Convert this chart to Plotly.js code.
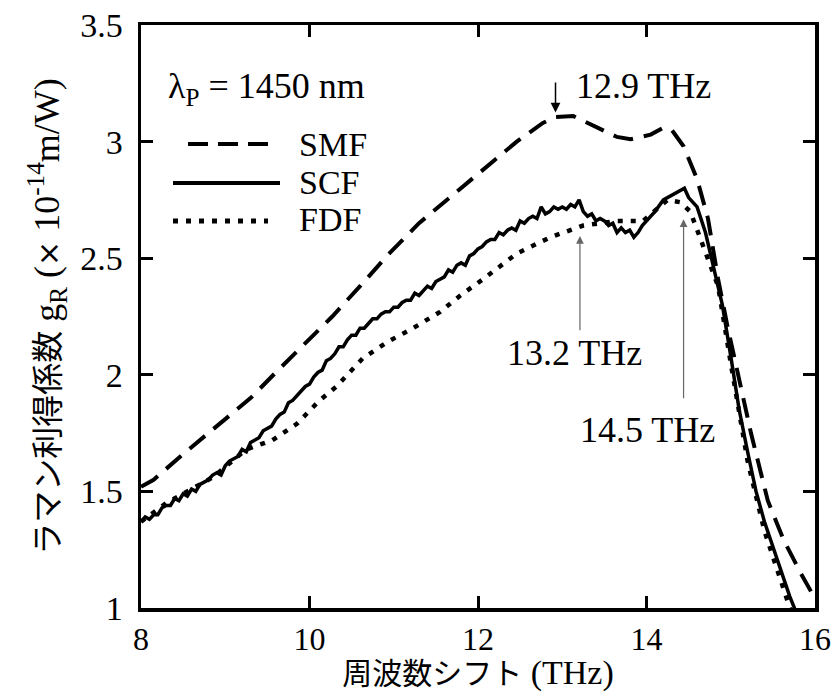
<!DOCTYPE html>
<html>
<head>
<meta charset="utf-8">
<script src="https://cdn.plot.ly/plotly-3.0.1.min.js"></script>
<style>html,body{margin:0;padding:0;background:#fff;}#chart{width:834px;height:693px;}</style>
</head>
<body>
<div id="chart"></div>
<script>
// ---- data ----
var smfX = [8.0, 8.15, 8.5, 8.93, 9.3, 9.6, 10.0, 10.27, 10.6, 10.92, 11.3, 11.7, 12.06, 12.46, 12.77, 12.92, 13.13, 13.49, 13.65, 13.81, 14.05, 14.2, 14.3, 14.44, 14.6, 14.73, 14.85, 14.96, 15.1, 15.24, 15.44, 15.63, 15.83, 16.0];
var smfY = [1.52, 1.55, 1.66, 1.79, 1.90, 2.01, 2.15, 2.25, 2.38, 2.51, 2.65, 2.77, 2.88, 3.00, 3.08, 3.105, 3.11, 3.05, 3.02, 3.01, 3.03, 3.06, 3.05, 2.98, 2.84, 2.67, 2.41, 2.21, 1.98, 1.75, 1.46, 1.29, 1.15, 1.04];

var scfX = [8.0, 8.05, 8.1, 8.15, 8.2, 8.25, 8.3, 8.35, 8.4, 8.45, 8.5, 8.55, 8.6, 8.65, 8.7, 8.75, 8.8, 8.85, 8.9, 8.95, 9.0, 9.05, 9.1, 9.15, 9.2, 9.25, 9.3, 9.35, 9.4, 9.45, 9.5, 9.55, 9.6, 9.65, 9.7, 9.75, 9.8, 9.85, 9.9, 9.95, 10.0, 10.05, 10.1, 10.15, 10.2, 10.25, 10.3, 10.35, 10.4, 10.45, 10.5, 10.55, 10.6, 10.65, 10.7, 10.75, 10.8, 10.85, 10.9, 10.95, 11.0, 11.05, 11.1, 11.15, 11.2, 11.25, 11.3, 11.35, 11.4, 11.45, 11.5, 11.55, 11.6, 11.65, 11.7, 11.75, 11.8, 11.85, 11.9, 11.95, 12.0, 12.05, 12.1, 12.15, 12.2, 12.25, 12.3, 12.35, 12.4, 12.45, 12.5, 12.55, 12.6, 12.65, 12.7, 12.75, 12.8, 12.85, 12.9, 12.95, 13.0, 13.05, 13.1, 13.15, 13.2, 13.25, 13.3, 13.35, 13.4, 13.45, 13.5, 13.55, 13.6, 13.65, 13.7, 13.75, 13.8, 13.85, 13.9, 13.95, 14.0, 14.1, 14.2, 14.3, 14.4, 14.45, 14.5, 14.6, 14.7, 14.8, 14.9, 15.0, 15.1, 15.2, 15.3, 15.4, 15.5, 15.6, 15.7, 15.8];
var scfY = [1.37, 1.39, 1.38, 1.40, 1.40, 1.43, 1.44, 1.44, 1.47, 1.46, 1.49, 1.48, 1.51, 1.50, 1.53, 1.54, 1.55, 1.57, 1.58, 1.57, 1.61, 1.63, 1.64, 1.65, 1.68, 1.67, 1.71, 1.72, 1.73, 1.76, 1.77, 1.78, 1.81, 1.83, 1.84, 1.88, 1.89, 1.91, 1.93, 1.95, 1.96, 1.99, 2.01, 2.02, 2.06, 2.07, 2.09, 2.12, 2.12, 2.15, 2.17, 2.17, 2.20, 2.20, 2.22, 2.24, 2.24, 2.26, 2.27, 2.27, 2.29, 2.29, 2.31, 2.32, 2.32, 2.35, 2.34, 2.36, 2.38, 2.37, 2.40, 2.41, 2.42, 2.45, 2.44, 2.47, 2.48, 2.47, 2.51, 2.52, 2.54, 2.55, 2.57, 2.58, 2.58, 2.61, 2.60, 2.62, 2.63, 2.62, 2.66, 2.65, 2.67, 2.68, 2.67, 2.72, 2.69, 2.70, 2.72, 2.71, 2.72, 2.71, 2.73, 2.72, 2.75, 2.70, 2.68, 2.69, 2.66, 2.67, 2.66, 2.64, 2.65, 2.61, 2.63, 2.61, 2.62, 2.59, 2.61, 2.64, 2.66, 2.70, 2.75, 2.77, 2.79, 2.80, 2.76, 2.72, 2.61, 2.45, 2.30, 2.08, 1.85, 1.67, 1.50, 1.37, 1.26, 1.15, 1.05, 0.96];

var fdfX = [8.0, 8.3, 8.6, 8.85, 9.25, 9.56, 9.85, 10.12, 10.32, 10.63, 10.92, 11.23, 11.55, 11.79, 12.06, 12.46, 12.86, 13.25, 13.65, 13.96, 14.25, 14.4, 14.52, 14.68, 14.85, 15.0, 15.2, 15.4, 15.6, 15.72];
var fdfY = [1.37, 1.45, 1.51, 1.56, 1.68, 1.72, 1.79, 1.89, 1.95, 2.07, 2.14, 2.20, 2.27, 2.34, 2.41, 2.52, 2.59, 2.64, 2.66, 2.66, 2.75, 2.74, 2.70, 2.55, 2.38, 2.05, 1.63, 1.33, 1.11, 0.98];

var seriesNames = ['SMF', 'SCF', 'FDF'];
var xTicks = [8, 10, 12, 14, 16];
var yTicks = [1, 1.5, 2, 2.5, 3, 3.5];
var peakLabels = ['12.9 THz', '13.2 THz', '14.5 THz'];

// ---- plot ----
var SERIF = 'Liberation Serif';

var traces = [
  {x: smfX, y: smfY, name: seriesNames[0], mode: 'lines', line: {color: '#000', width: 4, dash: '20px,11px'}},
  {x: scfX, y: scfY, name: seriesNames[1], mode: 'lines', line: {color: '#000', width: 3.5}},
  {x: fdfX, y: fdfY, name: seriesNames[2], mode: 'lines', line: {color: '#000', width: 4.5, dash: '5px,8px'}}
];

// plot domain in pixels: left 141, right 815, top 25, bottom 608
function px(p) { return (p - 141) / 674; }
function py(p) { return (608 - p) / 583; }

var shapes = [
  {type: 'line', xref: 'paper', yref: 'paper', x0: px(188), x1: px(268), y0: py(144), y1: py(144), line: {color: '#000', width: 4, dash: '20px,10px'}},
  {type: 'line', xref: 'paper', yref: 'paper', x0: px(173), x1: px(280), y0: py(183), y1: py(183), line: {color: '#000', width: 4}},
  {type: 'line', xref: 'paper', yref: 'paper', x0: px(173), x1: px(268), y0: py(221), y1: py(221), line: {color: '#000', width: 5, dash: '5px,8px'}}
];

var annFont = {family: SERIF, size: 36, color: '#000'};
var legFont = {family: SERIF, size: 34, color: '#000'};
var annotations = [
  {xref: 'paper', yref: 'paper', x: px(297), y: py(144), xanchor: 'left', yanchor: 'middle', text: seriesNames[0], showarrow: false, font: legFont},
  {xref: 'paper', yref: 'paper', x: px(297), y: py(183), xanchor: 'left', yanchor: 'middle', text: seriesNames[1], showarrow: false, font: legFont},
  {xref: 'paper', yref: 'paper', x: px(297), y: py(220), xanchor: 'left', yanchor: 'middle', text: seriesNames[2], showarrow: false, font: legFont},
  {xref: 'paper', yref: 'paper', x: px(166), y: py(88), xanchor: 'left', yanchor: 'middle', text: 'λ<sub>P</sub> = 1450 nm', showarrow: false, font: annFont},
  // peak labels
  {xref: 'paper', yref: 'paper', x: px(643), y: py(86), xanchor: 'center', yanchor: 'middle', text: peakLabels[0], showarrow: false, font: annFont},
  {xref: 'paper', yref: 'paper', x: px(574), y: py(353), xanchor: 'center', yanchor: 'middle', text: peakLabels[1], showarrow: false, font: annFont},
  {xref: 'paper', yref: 'paper', x: px(647), y: py(430), xanchor: 'center', yanchor: 'middle', text: peakLabels[2], showarrow: false, font: annFont},
  // arrows (head at the peak, tail in data coords)
  {x: 12.92, y: 3.125, ax: 12.92, ay: 3.26, axref: 'x', ayref: 'y', text: '', showarrow: true, arrowhead: 2, arrowsize: 1.3, arrowwidth: 1.5, arrowcolor: '#000', standoff: 0},
  {x: 13.21, y: 2.595, ax: 13.21, ay: 2.185, axref: 'x', ayref: 'y', text: '', showarrow: true, arrowhead: 2, arrowsize: 1.3, arrowwidth: 1.2, arrowcolor: '#666', standoff: 0},
  {x: 14.44, y: 2.667, ax: 14.44, ay: 1.893, axref: 'x', ayref: 'y', text: '', showarrow: true, arrowhead: 2, arrowsize: 1.3, arrowwidth: 1.2, arrowcolor: '#666', standoff: 0}
];

var axisCommon = {
  showgrid: false, zeroline: false,
  showline: true, linecolor: '#000', linewidth: 3.5, mirror: 'ticks',
  ticks: 'inside', ticklen: 12, tickwidth: 3, tickcolor: '#000'
};

var layout = {
  width: 834, height: 693,
  margin: {l: 141, r: 19, t: 25, b: 85},
  paper_bgcolor: '#fff', plot_bgcolor: '#fff',
  showlegend: false,
  font: {family: SERIF},
  xaxis: Object.assign({}, axisCommon, {
    range: [8, 16], tickvals: xTicks, ticktext: xTicks.map(String),
    tickfont: {family: SERIF, size: 32, color: '#000'},
    ticklabelstandoff: 0,
    title: {text: '<span style="font-family:\'Noto Sans CJK JP\';font-size:30px">周波数シフト</span> (THz)', font: {family: SERIF, size: 34, color: '#000'}, standoff: 12}
  }),
  yaxis: Object.assign({}, axisCommon, {
    range: [1, 3.5], tickvals: yTicks, ticktext: yTicks.map(String),
    tickfont: {family: SERIF, size: 34, color: '#000'},
    ticklabelstandoff: 8,
    title: {text: '<span style="font-family:\'Noto Sans CJK JP\';font-size:32px">ラマン利得係数</span> g<sub>R</sub> (<span style="font-family:\'DejaVu Sans\';font-size:30px">×</span> 10<sup>-14</sup>m/W)', font: {family: SERIF, size: 36, color: '#000'}, standoff: 10}
  }),
  shapes: shapes,
  annotations: annotations
};

Plotly.newPlot('chart', traces, layout, {displayModeBar: false, staticPlot: true});
</script>
</body>
</html>
